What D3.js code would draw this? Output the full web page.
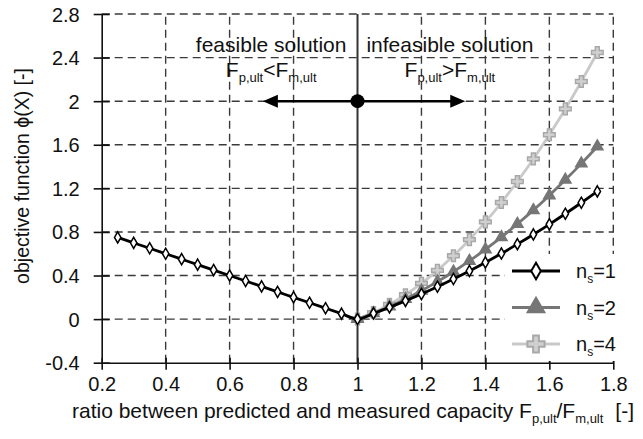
<!DOCTYPE html>
<html>
<head>
<meta charset="utf-8">
<script src="https://cdn.jsdelivr.net/npm/d3@7"></script>
<style>
  html, body { margin: 0; padding: 0; background: #fff; }
  svg text { font-family: "Liberation Sans", Arial, sans-serif; fill: #111; }
</style>
</head>
<body>
<svg id="chart" width="643" height="439"></svg>
<script>
// tick labels
var xTicks = [0.2, 0.4, 0.6, 0.8, 1.0, 1.2, 1.4, 1.6, 1.8];
var yTicks = [-0.4, 0, 0.4, 0.8, 1.2, 1.6, 2.0, 2.4, 2.8];

// n_s = 1 (full range)
var ratio1 = [0.25, 0.30, 0.35, 0.40, 0.45, 0.50, 0.55, 0.60, 0.65, 0.70, 0.75, 0.80, 0.85, 0.90, 0.95,
              1.00, 1.05, 1.10, 1.15, 1.20, 1.25, 1.30, 1.35, 1.40, 1.45, 1.50, 1.55, 1.60, 1.65, 1.70, 1.75];
var phi1 = [0.75, 0.70, 0.65, 0.60, 0.55, 0.50, 0.45, 0.40, 0.35, 0.30, 0.25, 0.20, 0.15, 0.10, 0.05,
            0.00, 0.052, 0.108, 0.167, 0.230, 0.297, 0.368, 0.442, 0.520, 0.602, 0.688, 0.777, 0.870, 0.967, 1.068, 1.172];

// n_s = 2 and n_s = 4 (infeasible side)
var ratio2 = [1.00, 1.05, 1.10, 1.15, 1.20, 1.25, 1.30, 1.35, 1.40, 1.45, 1.50, 1.55, 1.60, 1.65, 1.70, 1.75];
var phi2 = [0.00, 0.054, 0.116, 0.185, 0.261, 0.344, 0.435, 0.534, 0.639, 0.752, 0.873, 1.000, 1.135, 1.278, 1.427, 1.584];
var phi4 = [0.00, 0.060, 0.135, 0.224, 0.328, 0.447, 0.581, 0.729, 0.892, 1.070, 1.263, 1.470, 1.692, 1.929, 2.181, 2.447];

var seriesNames = ["1", "2", "4"];

var svg = d3.select("#chart");
var x = d3.scaleLinear().domain([0.2, 1.8]).range([101.7, 613.3]);
var y = d3.scaleLinear().domain([-0.4, 2.8]).range([362.7, 14]);
var fmt = function(d) { return d3.format("~g")(d).replace("\u2212", "-"); };

// dashed grid
var grid = svg.append("g").attr("stroke", "#3a3a3a").attr("stroke-width", 1.4).attr("stroke-dasharray", "8,5");
grid.selectAll("line.h").data(yTicks.slice(1)).enter().append("line")
    .attr("x1", x(0.2)).attr("x2", x(1.8))
    .attr("y1", function(d) { return y(d); }).attr("y2", function(d) { return y(d); });
grid.selectAll("line.v").data(xTicks.filter(function(d) { return d !== 0.2 && d !== 1.0; })).enter().append("line")
    .attr("y1", y(-0.4)).attr("y2", y(2.8))
    .attr("x1", function(d) { return x(d); }).attr("x2", function(d) { return x(d); });

// solid line at ratio = 1
svg.append("line").attr("x1", x(1)).attr("x2", x(1)).attr("y1", y(2.8)).attr("y2", y(-0.4))
    .attr("stroke", "#333").attr("stroke-width", 2);

// axes
var xAxis = svg.append("g").attr("transform", "translate(0," + y(-0.4) + ")")
    .call(d3.axisBottom(x).tickValues(xTicks).tickSize(0).tickFormat(fmt));
xAxis.select(".domain").attr("stroke", "#111").attr("stroke-width", 1.6);
xAxis.selectAll(".tick").append("line").attr("y1", -5).attr("y2", 7).attr("stroke", "#111").attr("stroke-width", 1.6);
xAxis.selectAll(".tick text").attr("y", 28).attr("dy", 0).attr("font-size", 20);

var yAxis = svg.append("g").attr("transform", "translate(" + x(0.2) + ",0)")
    .call(d3.axisLeft(y).tickValues(yTicks).tickSize(0).tickFormat(fmt));
yAxis.select(".domain").attr("stroke", "#111").attr("stroke-width", 1.6);
yAxis.selectAll(".tick").append("line").attr("x1", -8).attr("x2", 8).attr("stroke", "#111").attr("stroke-width", 1.6);
yAxis.selectAll(".tick text").attr("x", -22).attr("dy", "0.35em").attr("font-size", 20);

// axis titles
var xt = svg.append("text").attr("x", 72).attr("y", 418).attr("font-size", 21);
xt.append("tspan").text("ratio between predicted and measured capacity F");
xt.append("tspan").attr("font-size", 13).attr("dy", 5).text("p,ult");
xt.append("tspan").attr("dy", -5).text("/F");
xt.append("tspan").attr("font-size", 13).attr("dy", 5).text("m,ult");
xt.append("tspan").attr("dy", -5).attr("dx", 12).text("[-]");

svg.append("text").attr("transform", "translate(29,176) rotate(-90)")
    .attr("text-anchor", "middle").attr("font-size", 19.5).text("objective function \u03D5(X) [-]");

// annotation
var ann = svg.append("g");
ann.append("text").attr("x", x(0.73)).attr("y", 52).attr("text-anchor", "middle").attr("font-size", 21).text("feasible solution");
ann.append("text").attr("x", x(1.289)).attr("y", 52).attr("text-anchor", "middle").attr("font-size", 21).text("infeasible solution");
function fLabel(cx, op) {
  var t = ann.append("text").attr("x", cx).attr("y", 77).attr("text-anchor", "middle").attr("font-size", 21);
  t.append("tspan").text("F");
  t.append("tspan").attr("font-size", 13).attr("dy", 5).text("p,ult");
  t.append("tspan").attr("dy", -5).text(op + "F");
  t.append("tspan").attr("font-size", 13).attr("dy", 5).text("m,ult");
}
fLabel(x(0.73), "<");
fLabel(x(1.289), ">");
ann.append("line").attr("x1", x(0.75)).attr("x2", x(1.3)).attr("y1", y(2)).attr("y2", y(2))
    .attr("stroke", "#000").attr("stroke-width", 2.5);
ann.append("path").attr("d", "M" + x(0.704) + "," + y(2) + "l15,-6.5v13z").attr("fill", "#000");
ann.append("path").attr("d", "M" + x(1.337) + "," + y(2) + "l-15,-6.5v13z").attr("fill", "#000");
ann.append("circle").attr("cx", x(1)).attr("cy", y(2)).attr("r", 7).attr("fill", "#000");

// series
var styles = {
  "4": { line: "#c9c9c9", width: 2.8, symbol: d3.symbolCross, size: 75, fill: "#d0d0d0", stroke: "#a8a8a8" },
  "2": { line: "#767676", width: 2.8, symbol: d3.symbolTriangle, size: 55, fill: "#767676", stroke: "#767676" },
  "1": { line: "#000", width: 2.8, symbol: d3.symbolDiamond, size: 36, fill: "#fff", stroke: "#000" }
};
var seriesData = {
  "1": ratio1.map(function(r, i) { return [r, phi1[i]]; }),
  "2": ratio2.map(function(r, i) { return [r, phi2[i]]; }),
  "4": ratio2.map(function(r, i) { return [r, phi4[i]]; })
};
var line = d3.line().x(function(d) { return x(d[0]); }).y(function(d) { return y(d[1]); })
    .curve(d3.curveCatmullRom.alpha(0.5));

["4", "2", "1"].forEach(function(n) {
  var s = styles[n], g = svg.append("g");
  g.append("path").datum(seriesData[n]).attr("d", line).attr("fill", "none")
      .attr("stroke", s.line).attr("stroke-width", s.width);
  g.selectAll("path.m").data(seriesData[n]).enter().append("path")
      .attr("d", d3.symbol().type(s.symbol).size(s.size))
      .attr("transform", function(d) { return "translate(" + x(d[0]) + "," + y(d[1]) + ")"; })
      .attr("fill", s.fill).attr("stroke", s.stroke).attr("stroke-width", 1.5);
});

// legend
var leg = svg.append("g");
leg.append("rect").attr("x", 505).attr("y", 254).attr("width", 116).attr("height", 107).attr("fill", "#fff");
var legY = d3.scalePoint().domain(seriesNames).range([271, 344]);
seriesNames.forEach(function(n) {
  var s = styles[n], ly = legY(n);
  leg.append("line").attr("x1", 512).attr("x2", 560).attr("y1", ly).attr("y2", ly)
      .attr("stroke", s.line).attr("stroke-width", s.width + 0.3);
  leg.append("path").attr("d", d3.symbol().type(s.symbol).size(s.size * 2.2))
      .attr("transform", "translate(536," + ly + ")")
      .attr("fill", s.fill).attr("stroke", s.stroke).attr("stroke-width", 2);
  var t = leg.append("text").attr("x", 576).attr("y", ly + 7).attr("font-size", 20);
  t.append("tspan").text("n");
  t.append("tspan").attr("font-size", 12).attr("dy", 5).text("s");
  t.append("tspan").attr("dy", -5).text("=" + n);
});
</script>
</body>
</html>
